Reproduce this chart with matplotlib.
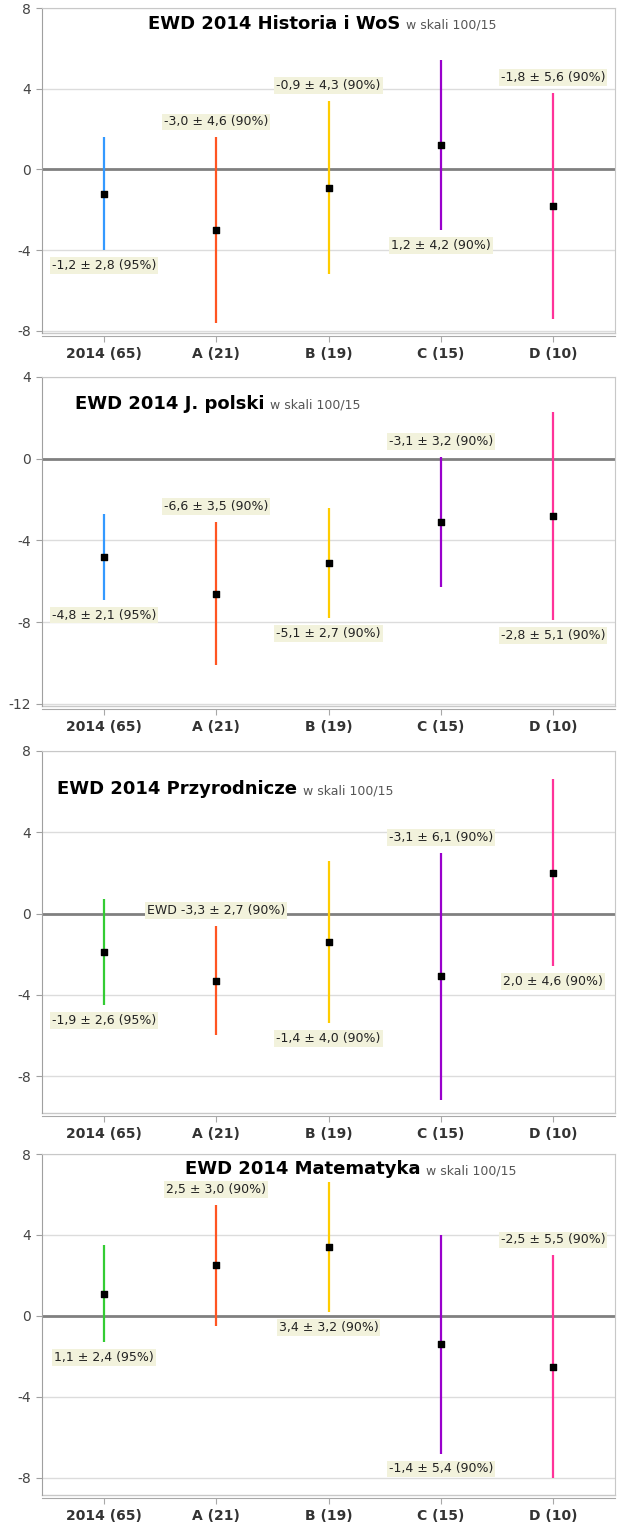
import matplotlib.pyplot as plt
import numpy as np

categories = ["2014 (65)", "A (21)", "B (19)", "C (15)", "D (10)"]
conf = ["95%", "90%", "90%", "90%", "90%"]

titles = ["EWD 2014 Historia i WoS", "EWD 2014 J. polski",
          "EWD 2014 Przyrodnicze", "EWD 2014 Matematyka"]
subtitle = "w skali 100/15"

# mean and half-width of the interval for each panel
hist_mean = [-1.2, -3.0, -0.9, 1.2, -1.8]
hist_err = [2.8, 4.6, 4.3, 4.2, 5.6]
pol_mean = [-4.8, -6.6, -5.1, -3.1, -2.8]
pol_err = [2.1, 3.5, 2.7, 3.2, 5.1]
przyr_mean = [-1.9, -3.3, -1.4, -3.1, 2.0]
przyr_err = [2.6, 2.7, 4.0, 6.1, 4.6]
mat_mean = [1.1, 2.5, 3.4, -1.4, -2.5]
mat_err = [2.4, 3.0, 3.2, 5.4, 5.5]

means = [hist_mean, pol_mean, przyr_mean, mat_mean]
errs = [hist_err, pol_err, przyr_err, mat_err]

# label placed above (1) or below (0) the bar
label_above = [[0, 1, 1, 0, 1],
               [0, 1, 0, 1, 0],
               [0, 1, 0, 1, 0],
               [0, 1, 0, 0, 1]]
label_prefix = {(2, 1): "EWD "}

yticks = [[-8, -4, 0, 4, 8], [-12, -8, -4, 0, 4], [-8, -4, 0, 4, 8], [-8, -4, 0, 4, 8]]
ylims = [(-8.1, 8), (-12.1, 4), (-9.82, 8), (-8.84, 8)]

colors_a = ["#3399ff", "#ff5522", "#ffcc00", "#9900cc", "#ff3399"]
colors_b = ["#33cc33", "#ff5522", "#ffcc00", "#9900cc", "#ff3399"]
panel_colors = [colors_a, colors_a, colors_b, colors_b]

# pixel boxes (top, bottom) and title positions
W, H = 625, 1536
boxes = [(8, 333), (377, 706), (751, 1113), (1154, 1495)]
title_pos = [(148, 29), (75, 409), (57, 794), (185, 1174)]
left_px, right_px = 42, 615

fig = plt.figure(figsize=(W / 100, H / 100), dpi=100)

def fmt(v):
    return f"{v:.1f}".replace(".", ",")

for p in range(4):
    top, bot = boxes[p]
    ax = fig.add_axes([left_px / W, 1 - bot / H, (right_px - left_px) / W, (bot - top) / H])
    x = np.arange(len(categories))
    m = np.array(means[p])
    e = np.array(errs[p])

    ax.set_xlim(-0.55, 4.55)
    ax.set_ylim(*ylims[p])
    ax.set_yticks(yticks[p])
    ax.set_yticklabels([str(t) for t in yticks[p]])
    ax.set_xticks(x)
    ax.set_xticklabels(categories)

    for t in yticks[p]:
        if t != 0:
            ax.axhline(t, color="#dcdcdc", lw=1, zorder=0)
    ax.axhline(0, color="#808080", lw=2, zorder=1)

    ax.vlines(x, m - e, m + e, colors=panel_colors[p], lw=1.6, zorder=2)
    ax.scatter(x, m, marker="s", s=20, color="black", zorder=3)

    for i in range(len(categories)):
        txt = label_prefix.get((p, i), "") + f"{fmt(m[i])} ± {fmt(e[i])} ({conf[i]})"
        if label_above[p][i]:
            y, off = m[i] + e[i], 11
        else:
            y, off = m[i] - e[i], -11
        ax.annotate(txt, (i, y), xytext=(0, off), textcoords="offset points",
                    ha="center", va="center", fontsize=9, color="#222222",
                    bbox=dict(boxstyle="square,pad=0.15", fc="#f2f2dc", ec="none"),
                    zorder=4)

    for s in ["top", "right"]:
        ax.spines[s].set_color("#c8c8c8")
    ax.spines["left"].set_color("#a0a0a0")
    ax.spines["bottom"].set_color("#a8a8a8")
    ax.spines["bottom"].set_position(("outward", 2))
    ax.plot([0, 1], [0, 0], transform=ax.transAxes, color="#c8c8c8", lw=1, clip_on=False)
    ax.tick_params(axis="y", length=4, color="#a0a0a0", labelsize=10, labelcolor="#444444", pad=4)
    ax.tick_params(axis="x", length=4, color="#a8a8a8", labelsize=10, labelcolor="#333333", pad=4)
    for lbl in ax.get_xticklabels():
        lbl.set_fontweight("bold")

    tx, ty = title_pos[p]
    t1 = fig.text(tx / W, 1 - ty / H, titles[p], fontsize=13, fontweight="bold",
                  color="black", va="baseline")
    fig.canvas.draw()
    bb = t1.get_window_extent()
    fig.text((bb.x1 + 6) / W, 1 - ty / H, subtitle, fontsize=9, color="#555555", va="baseline")

fig.savefig("out.png", dpi=100)
